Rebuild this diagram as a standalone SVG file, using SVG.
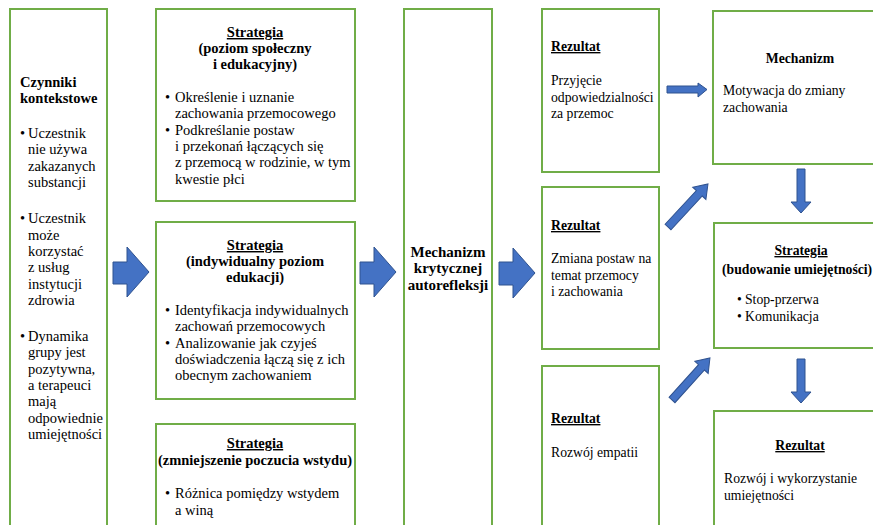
<svg xmlns="http://www.w3.org/2000/svg" width="873" height="525" viewBox="0 0 873 525">
<style>
.box{fill:#fff;stroke:#70AD47;stroke-width:2}
text{font-family:"Liberation Serif","Times New Roman",serif;font-size:14.5px;fill:#000}
.r text{font-size:13.7px}
.b{font-weight:bold}
.u{text-decoration:underline}
.c{text-anchor:middle}
.arr{fill:#4472C4;stroke:#2F528F;stroke-width:1}
</style>
<rect width="873" height="525" fill="#fff"/>
<g id="n-czynniki">
<rect class="box" x="10" y="9" width="97" height="530"/>
<text class="b" x="20" y="87">Czynniki</text>
<text class="b" x="20" y="103">kontekstowe</text>
<text x="20" y="138">•</text>
<text x="28" y="138">Uczestnik</text>
<text x="28" y="154">nie używa</text>
<text x="28" y="171">zakazanych</text>
<text x="28" y="187">substancji</text>
<text x="20" y="223">•</text>
<text x="28" y="223">Uczestnik</text>
<text x="28" y="240">może</text>
<text x="28" y="256">korzystać</text>
<text x="28" y="272">z usług</text>
<text x="28" y="289">instytucji</text>
<text x="28" y="305">zdrowia</text>
<text x="20" y="341">•</text>
<text x="28" y="341">Dynamika</text>
<text x="28" y="357">grupy jest</text>
<text x="28" y="374">pozytywna,</text>
<text x="28" y="390">a terapeuci</text>
<text x="28" y="406">mają</text>
<text x="28" y="423">odpowiednie</text>
<text x="28" y="439">umiejętności</text>
</g>
<g id="n-strategia-spoleczny">
<rect class="box" x="156" y="9" width="199" height="192"/>
<text class="b u c" x="255" y="37">Strategia</text>
<text class="b c" x="255" y="53">(poziom społeczny</text>
<text class="b c" x="255" y="69">i edukacyjny)</text>
<text x="165" y="102">•</text>
<text x="175" y="102">Określenie i uznanie</text>
<text x="175" y="118">zachowania przemocowego</text>
<text x="165" y="135">•</text>
<text x="175" y="135">Podkreślanie postaw</text>
<text x="175" y="151">i przekonań łączących się</text>
<text x="175" y="167">z przemocą w rodzinie, w tym</text>
<text x="175" y="184">kwestie płci</text>
</g>
<g id="n-strategia-indywidualny">
<rect class="box" x="156" y="222" width="199" height="177"/>
<text class="b u c" x="255" y="250">Strategia</text>
<text class="b c" x="255" y="266">(indywidualny poziom</text>
<text class="b c" x="255" y="282">edukacji)</text>
<text x="165" y="315">•</text>
<text x="175" y="315">Identyfikacja indywidualnych</text>
<text x="175" y="331">zachowań przemocowych</text>
<text x="165" y="348">•</text>
<text x="175" y="348">Analizowanie jak czyjeś</text>
<text x="175" y="364">doświadczenia łączą się z ich</text>
<text x="175" y="380">obecnym zachowaniem</text>
</g>
<g id="n-strategia-wstyd">
<rect class="box" x="156" y="424" width="199" height="120"/>
<text class="b u c" x="255" y="448">Strategia</text>
<text class="b c" x="255" y="465">(zmniejszenie poczucia wstydu)</text>
<text x="165" y="498">•</text>
<text x="175" y="498">Różnica pomiędzy wstydem</text>
<text x="175" y="515">a winą</text>
</g>
<g id="n-mechanizm-autorefleksji">
<rect class="box" x="404" y="9" width="88" height="530"/>
<text class="b c" x="448" y="257" style="font-size:15px">Mechanizm</text>
<text class="b c" x="448" y="273" style="font-size:15px">krytycznej</text>
<text class="b c" x="448" y="290" style="font-size:15px">autorefleksji</text>
</g>
<g id="n-rezultat-odpowiedzialnosc" class="r">
<rect class="box" x="542" y="9" width="117" height="163"/>
<text class="b u" x="551" y="51">Rezultat</text>
<text x="551" y="85">Przyjęcie</text>
<text x="551" y="102">odpowiedzialności</text>
<text x="551" y="118">za przemoc</text>
</g>
<g id="n-rezultat-postawy" class="r">
<rect class="box" x="542" y="187" width="117" height="162"/>
<text class="b u" x="551" y="230">Rezultat</text>
<text x="551" y="263">Zmiana postaw na</text>
<text x="551" y="280">temat przemocy</text>
<text x="551" y="296">i zachowania</text>
</g>
<g id="n-rezultat-empatia" class="r">
<rect class="box" x="542" y="366" width="117" height="180"/>
<text class="b u" x="551" y="423">Rezultat</text>
<text x="551" y="457">Rozwój empatii</text>
</g>
<g id="n-mechanizm-motywacja" class="r">
<rect class="box" x="713" y="11" width="180" height="153"/>
<text class="b c" x="800" y="63">Mechanizm</text>
<text x="723" y="95">Motywacja do zmiany</text>
<text x="723" y="112">zachowania</text>
</g>
<g id="n-strategia-umiejetnosci" class="r">
<rect class="box" x="714" y="223" width="180" height="125"/>
<text class="b u c" x="801" y="255">Strategia</text>
<text class="b" x="722" y="274">(budowanie umiejętności)</text>
<text x="737" y="304">•</text>
<text x="745" y="304">Stop-przerwa</text>
<text x="737" y="321">•</text>
<text x="745" y="321">Komunikacja</text>
</g>
<g id="n-rezultat-umiejetnosci" class="r">
<rect class="box" x="714" y="411" width="180" height="130"/>
<text class="b u c" x="800" y="450">Rezultat</text>
<text x="724" y="483">Rozwój i wykorzystanie</text>
<text x="724" y="500">umiejętności</text>
</g>
<g id="connectors">
<polygon class="arr" points="113,262 127,262 127,247 149,272 127,297 127,284 113,284"/>
<polygon class="arr" points="360,262 374,262 374,247 396,272 374,297 374,284 360,284"/>
<polygon class="arr" points="499,262 513,262 513,248 535,273 513,298 513,285 499,285"/>
<polygon class="arr" points="667,86 698,86 698,83 707,89.5 698,97 698,93 667,93"/>
<polygon class="arr" transform="translate(668,227) rotate(-47.1)" points="0,-4 46,-4 46,-9 58.7,0 46,9 46,4 0,4"/>
<polygon class="arr" transform="translate(672,400) rotate(-47.9)" points="0,-4 44,-4 44,-9 56.6,0 44,9 44,4 0,4"/>
<polygon class="arr" points="797,169 805,169 805,202 811,202 801,213 791,202 797,202"/>
<polygon class="arr" points="797,359 805,359 805,392 811,392 801,403 791,392 797,392"/>
</g>
</svg>
